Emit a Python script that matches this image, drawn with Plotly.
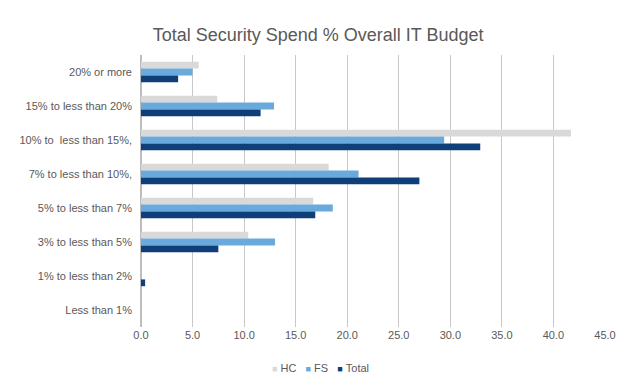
import plotly.graph_objects as go

categories = ["20% or more", "15% to less than 20%", "10% to  less than 15%,",
              "7% to less than 10%,", "5% to less than 7%", "3% to less than 5%",
              "1% to less than 2%", "Less than 1%"]
hc = [5.6, 7.4, 41.7, 18.2, 16.7, 10.4, 0.0, 0.0]
fs = [5.0, 12.9, 29.4, 21.1, 18.6, 13.0, 0.0, 0.0]
total = [3.6, 11.6, 32.9, 27.0, 16.9, 7.5, 0.4, 0.0]
series_names = ["HC", "FS", "Total"]
colors = ["#d9d9d9", "#6aa9dc", "#0f3f78"]

fig = go.Figure()
for name, vals, c in zip(series_names, [hc, fs, total], colors):
    fig.add_trace(go.Bar(y=categories, x=vals, name=name, orientation="h",
                         marker=dict(color=c, line=dict(width=0)), showlegend=False))

legend_text = "&nbsp;&nbsp;&nbsp;".join(
    f"<span style='font-size:9px;color:{c}'>■</span>&nbsp;{n}" for n, c in zip(series_names, colors)
)

fig.update_layout(
    width=640, height=391,
    paper_bgcolor="white", plot_bgcolor="white",
    barmode="group", bargap=0.4, bargroupgap=0,
    margin=dict(l=141, r=35, t=55, b=64, autoexpand=False),
    font=dict(family="Liberation Sans, Arial, sans-serif", color="#595959", size=11),
    title=dict(text="Total Security Spend % Overall IT Budget", x=0.497, xanchor="center",
               y=0.91, yanchor="middle",
               font=dict(size=18, color="#595959")),
    xaxis=dict(range=[0, 45], dtick=5, tickformat=".1f", showgrid=True, automargin=False,
               gridcolor="#c8c8c8", gridwidth=1, zeroline=True, zerolinecolor="#bdbdbd",
               showline=False, ticks="", tickfont=dict(size=11, color="#595959")),
    yaxis=dict(categoryorder="array", categoryarray=categories, autorange="reversed",
               showgrid=False, showline=False, ticks="", automargin=False,
               ticklabelstandoff=8,
               tickfont=dict(size=11, color="#595959")),
    showlegend=False,
    annotations=[dict(text=legend_text, xref="paper", yref="paper",
                      x=0.386, y=-0.151, xanchor="center", yanchor="middle",
                      showarrow=False, font=dict(size=11, color="#595959"))],
)
fig.write_html("out.html", config={"displayModeBar": False},
               post_script="document.body.style.margin='0';document.body.style.overflow='hidden';")
